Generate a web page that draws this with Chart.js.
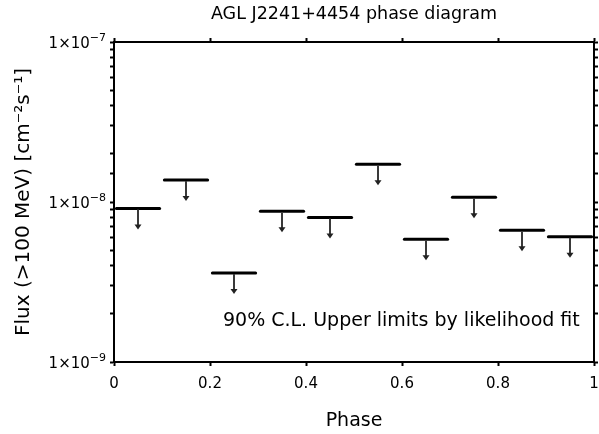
<!DOCTYPE html>
<html>
<head>
<meta charset="utf-8">
<script src="https://cdn.jsdelivr.net/npm/chart.js@4.4.1/dist/chart.umd.min.js"></script>
<style>
    html, body { margin: 0; padding: 0; background: #fff; }
    #wrap { width: 599px; height: 434px; }
</style>
</head>
<body>
<div id="wrap"><canvas id="phase"></canvas></div>
<script>
// phase bins and 90% C.L. flux upper limits (cm^-2 s^-1)
const phaseLo = [0.0, 0.1, 0.2, 0.3, 0.4, 0.5, 0.6, 0.7, 0.8, 0.9];
const phaseHi = [0.1, 0.2, 0.3, 0.4, 0.5, 0.6, 0.7, 0.8, 0.9, 1.0];
const upperLimits = [9.1e-9, 1.37e-8, 3.6e-9, 8.75e-9, 8.0e-9, 1.72e-8, 5.85e-9, 1.07e-8, 6.65e-9, 6.07e-9];

const xTicks = [0, 0.2, 0.4, 0.6, 0.8, 1];
const yDecades = [1e-9, 1e-8, 1e-7];

const FONT = '"DejaVu Sans", "Liberation Sans", sans-serif';

// one short line per phase bin, slightly inset so neighbours don't touch
const inset = 0.005;
const datasets = upperLimits.map((v, i) => ({
    data: [{ x: phaseLo[i] + inset, y: v }, { x: phaseHi[i] - inset, y: v }],
    borderColor: '#000',
    borderWidth: 3,
    borderCapStyle: 'round',
    pointRadius: 0,
    xAxisID: 'x',
    yAxisID: 'y',
}));

// draws the downward "upper limit" arrows, the note text and the 1x10^n labels
const arrowPlugin = {
    id: 'ulArrows',
    afterDatasetsDraw(chart) {
        const { ctx, scales } = chart;
        const len = 21;
        ctx.save();
        ctx.strokeStyle = '#3a3a3a';
        ctx.fillStyle = '#222';
        ctx.lineWidth = 2;
        upperLimits.forEach((v, i) => {
            const px = Math.round(scales.x.getPixelForValue((phaseLo[i] + phaseHi[i]) / 2));
            const py = scales.y.getPixelForValue(v);
            ctx.beginPath();
            ctx.moveTo(px, py + 1);
            ctx.lineTo(px, py + len - 3);
            ctx.stroke();
            ctx.beginPath();
            ctx.moveTo(px - 3.5, py + len - 5);
            ctx.lineTo(px + 3.5, py + len - 5);
            ctx.lineTo(px, py + len);
            ctx.closePath();
            ctx.fill();
        });

        ctx.fillStyle = '#000';
        ctx.font = '19px ' + FONT;
        ctx.textBaseline = 'middle';
        ctx.textAlign = 'left';
        ctx.fillText('90% C.L. Upper limits by likelihood fit',
            scales.x.getPixelForValue(0.227), scales.y.getPixelForValue(1.8e-9));

        // y tick labels with a raised exponent
        const right = scales.y.right - 4 - 4;
        yDecades.forEach((d) => {
            const py = scales.y.getPixelForValue(d);
            const exp = '\u2212' + String(-Math.round(Math.log10(d)));
            ctx.font = '11px ' + FONT;
            const ew = ctx.measureText(exp).width;
            ctx.textAlign = 'right';
            ctx.textBaseline = 'alphabetic';
            ctx.fillText(exp, right, py - 1);
            ctx.font = '15px ' + FONT;
            ctx.fillText('1\u00D710', right - ew, py + 6);
        });
        ctx.restore();
    }
};

const axisGrid = {
    drawOnChartArea: false,
    drawTicks: true,
    tickLength: 4,
    tickColor: '#000',
    tickWidth: 2,
};
const axisBorder = { display: true, color: '#000', width: 2 };

new Chart(document.getElementById('phase'), {
    type: 'line',
    data: { datasets },
    options: {
        responsive: true,
        maintainAspectRatio: false,
        animation: false,
        layout: { padding: 0 },
        plugins: {
            legend: { display: false },
            tooltip: { enabled: false },
        },
        scales: {
            x: {
                type: 'linear',
                position: 'bottom',
                min: 0,
                max: 1,
                afterBuildTicks: (axis) => { axis.ticks = xTicks.map(v => ({ value: v })); },
                afterFit: (axis) => {
                    axis.height = 72;
                    axis.paddingLeft = 0;
                    axis.paddingRight = 0;
                },
                ticks: {
                    color: '#000',
                    font: { family: FONT, size: 15 },
                    padding: 9,
                    maxRotation: 0,
                    callback: (v) => String(v),
                },
                grid: axisGrid,
                border: axisBorder,
                title: {
                    display: true,
                    text: 'Phase',
                    color: '#000',
                    font: { family: FONT, size: 19 },
                    padding: { top: 0, bottom: 2 },
                },
            },
            x2: {
                type: 'linear',
                position: 'top',
                min: 0,
                max: 1,
                afterBuildTicks: (axis) => { axis.ticks = xTicks.map(v => ({ value: v })); },
                afterFit: (axis) => {
                    axis.height = 42;
                    axis.paddingLeft = 0;
                    axis.paddingRight = 0;
                },
                ticks: { display: false },
                grid: axisGrid,
                border: axisBorder,
                title: {
                    display: true,
                    text: 'AGL J2241+4454 phase diagram',
                    color: '#000',
                    font: { family: FONT, size: 17.5 },
                    padding: { top: 4, bottom: 0 },
                },
            },
            y: {
                type: 'logarithmic',
                position: 'left',
                min: 1e-9,
                max: 1e-7,
                afterFit: (axis) => { axis.width = 114; },
                ticks: {
                    autoSkip: false,
                    callback: () => '',
                },
                grid: axisGrid,
                border: axisBorder,
                title: {
                    display: true,
                    text: 'Flux (>100 MeV) [cm\u207B\u00B2s\u207B\u00B9]',
                    color: '#000',
                    font: { family: FONT, size: 20 },
                    padding: { top: 12, bottom: 0 },
                },
            },
            y2: {
                type: 'logarithmic',
                position: 'right',
                min: 1e-9,
                max: 1e-7,
                afterFit: (axis) => { axis.width = 5; },
                ticks: {
                    autoSkip: false,
                    callback: () => '',
                    padding: 0,
                },
                grid: axisGrid,
                border: axisBorder,
            },
        },
    },
    plugins: [arrowPlugin],
});
</script>
</body>
</html>
